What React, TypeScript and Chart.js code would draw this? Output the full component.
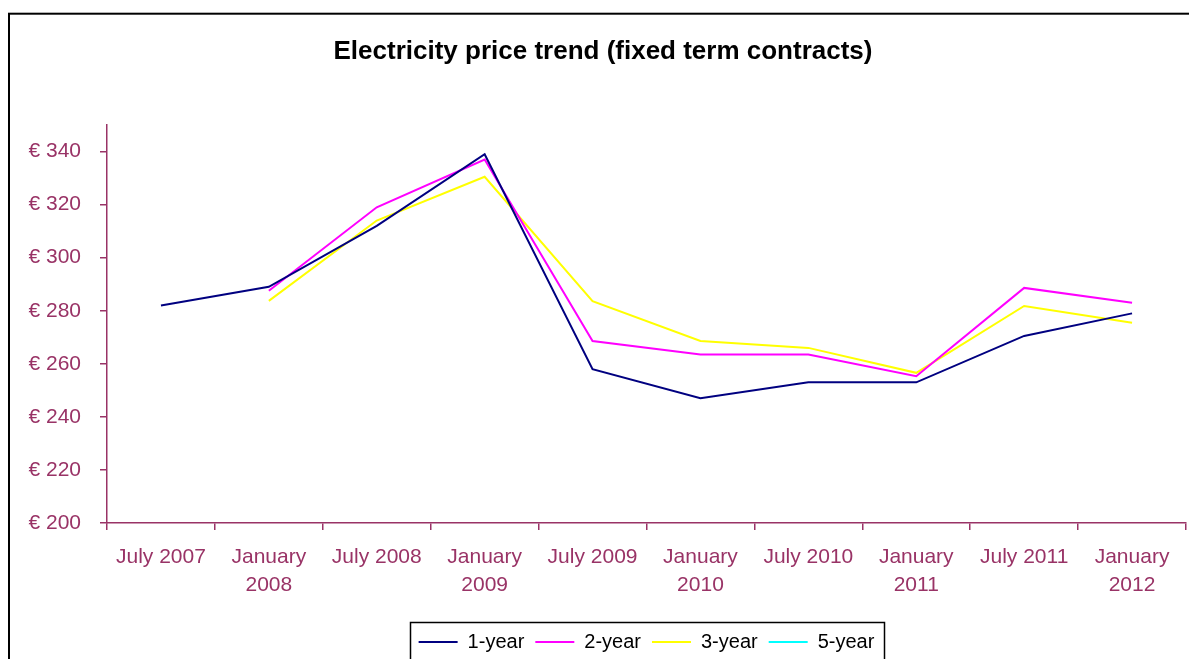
import React, { useEffect, useRef } from 'react';
import { Chart, registerables } from 'chart.js';

Chart.register(...registerables);

const categories: (string | string[])[] = [
  'July 2007',
  ['January', '2008'],
  'July 2008',
  ['January', '2009'],
  'July 2009',
  ['January', '2010'],
  'July 2010',
  ['January', '2011'],
  'July 2011',
  ['January', '2012'],
];

const oneYear = [282, 289, 312, 339, 258, 247, 253, 253, 270.5, 279];
const twoYear = [null, 287.5, 319, 337, 268.6, 263.5, 263.5, 255.3, 288.6, 283];
const threeYear = [null, 283.7, 314, 330.5, 283.6, 268.6, 266, 256.6, 281.8, 275.5];
const fiveYear = [null, null, null, null, null, null, null, null, null, null];

const seriesNames = ['1-year', '2-year', '3-year', '5-year'];
const seriesColors = ['#000080', '#FF00FF', '#FFFF00', '#00FFFF'];
const titleText = 'Electricity price trend (fixed term contracts)';

const FONT = 'Arial, "Liberation Sans", sans-serif';
const PLUM = '#993366';

const framePlugin = {
  id: 'frame',
  afterDraw(chart: any) {
    const ctx = chart.ctx;
    ctx.save();
    ctx.strokeStyle = '#000';
    ctx.lineWidth = 2;
    ctx.strokeRect(9, 13.7, 1300, 800);
    const lg = chart.legend;
    if (lg && lg.legendHitBoxes && lg.legendHitBoxes.length) {
      const hb = lg.legendHitBoxes;
      const left = hb[0].left - 9;
      const last = hb[hb.length - 1];
      const right = last.left + last.width + 9;
      ctx.lineWidth = 1.5;
      ctx.strokeRect(Math.round(left) + 0.5, 622.5, Math.round(right - left), 80);
    }
    ctx.restore();
  },
};

function makeDataset(i: number, data: (number | null)[]) {
  const c = seriesColors[i];
  return {
    label: seriesNames[i],
    data,
    borderColor: c,
    backgroundColor: c,
    pointBorderColor: c,
    pointBackgroundColor: c,
    pointBorderWidth: 2,
    borderWidth: 2,
    pointRadius: 0,
    pointHoverRadius: 0,
    fill: false,
  };
}

export default function App() {
  const ref = useRef<HTMLCanvasElement>(null);
  useEffect(() => {
    const chart = new Chart(ref.current as HTMLCanvasElement, {
      type: 'line',
      data: {
        labels: categories,
        datasets: [
          makeDataset(0, oneYear),
          makeDataset(1, twoYear),
          makeDataset(2, threeYear),
          makeDataset(3, fiveYear),
        ] as any,
      },
      options: {
        responsive: false,
        animation: false,
        layout: { padding: { left: 20, right: 3, top: 0, bottom: -3 } },
        elements: {
          line: { tension: 0, borderWidth: 2, fill: false },
          point: { radius: 0, hoverRadius: 0 },
        },
        plugins: {
          title: {
            display: true,
            text: titleText,
            color: '#000',
            font: { family: FONT, size: 26, weight: 'bold', lineHeight: 1.2 },
            padding: { top: 36, bottom: 57.8 },
          },
          legend: {
            position: 'bottom',
            fullSize: false,
            labels: {
              usePointStyle: true,
              pointStyle: 'line',
              pointStyleWidth: 39,
              color: '#000',
              font: { family: FONT, size: 20, lineHeight: 1.05 },
              padding: 11,
            },
          },
          tooltip: { enabled: false },
        },
        scales: {
          x: {
            type: 'category',
            offset: true,
            grid: {
              display: true,
              drawOnChartArea: false,
              drawTicks: true,
              tickLength: 7,
              color: PLUM,
              lineWidth: 1.5,
              offset: true,
            },
            border: { display: true, color: PLUM, width: 1.5 },
            ticks: {
              color: PLUM,
              font: { family: FONT, size: 21, lineHeight: 1.35 },
              padding: 13,
              maxRotation: 0,
              autoSkip: false,
            },
            afterFit(s: any) {
              s.height = 98;
            },
          },
          y: {
            min: 200,
            max: 350,
            grid: {
              drawOnChartArea: false,
              drawTicks: true,
              tickLength: 7,
              color: PLUM,
              lineWidth: 1.5,
            },
            border: { display: true, color: PLUM, width: 1.5 },
            ticks: {
              stepSize: 20,
              color: PLUM,
              font: { family: FONT, size: 21 },
              padding: 19,
              callback: (v: any) => '€ ' + v,
            },
            afterBuildTicks(s: any) {
              s.ticks = s.ticks.filter((t: any) => t.value <= 340);
            },
            afterFit(s: any) {
              s.width = 87;
            },
          },
        },
      } as any,
      plugins: [framePlugin],
    });
    return () => chart.destroy();
  }, []);
  return (
    <div style={{ position: 'absolute', left: 0, top: 0, width: 1189, height: 659, background: '#fff', overflow: 'hidden' }}>
      <canvas ref={ref} width={1189} height={659} style={{ display: 'block' }} />
    </div>
  );
}
